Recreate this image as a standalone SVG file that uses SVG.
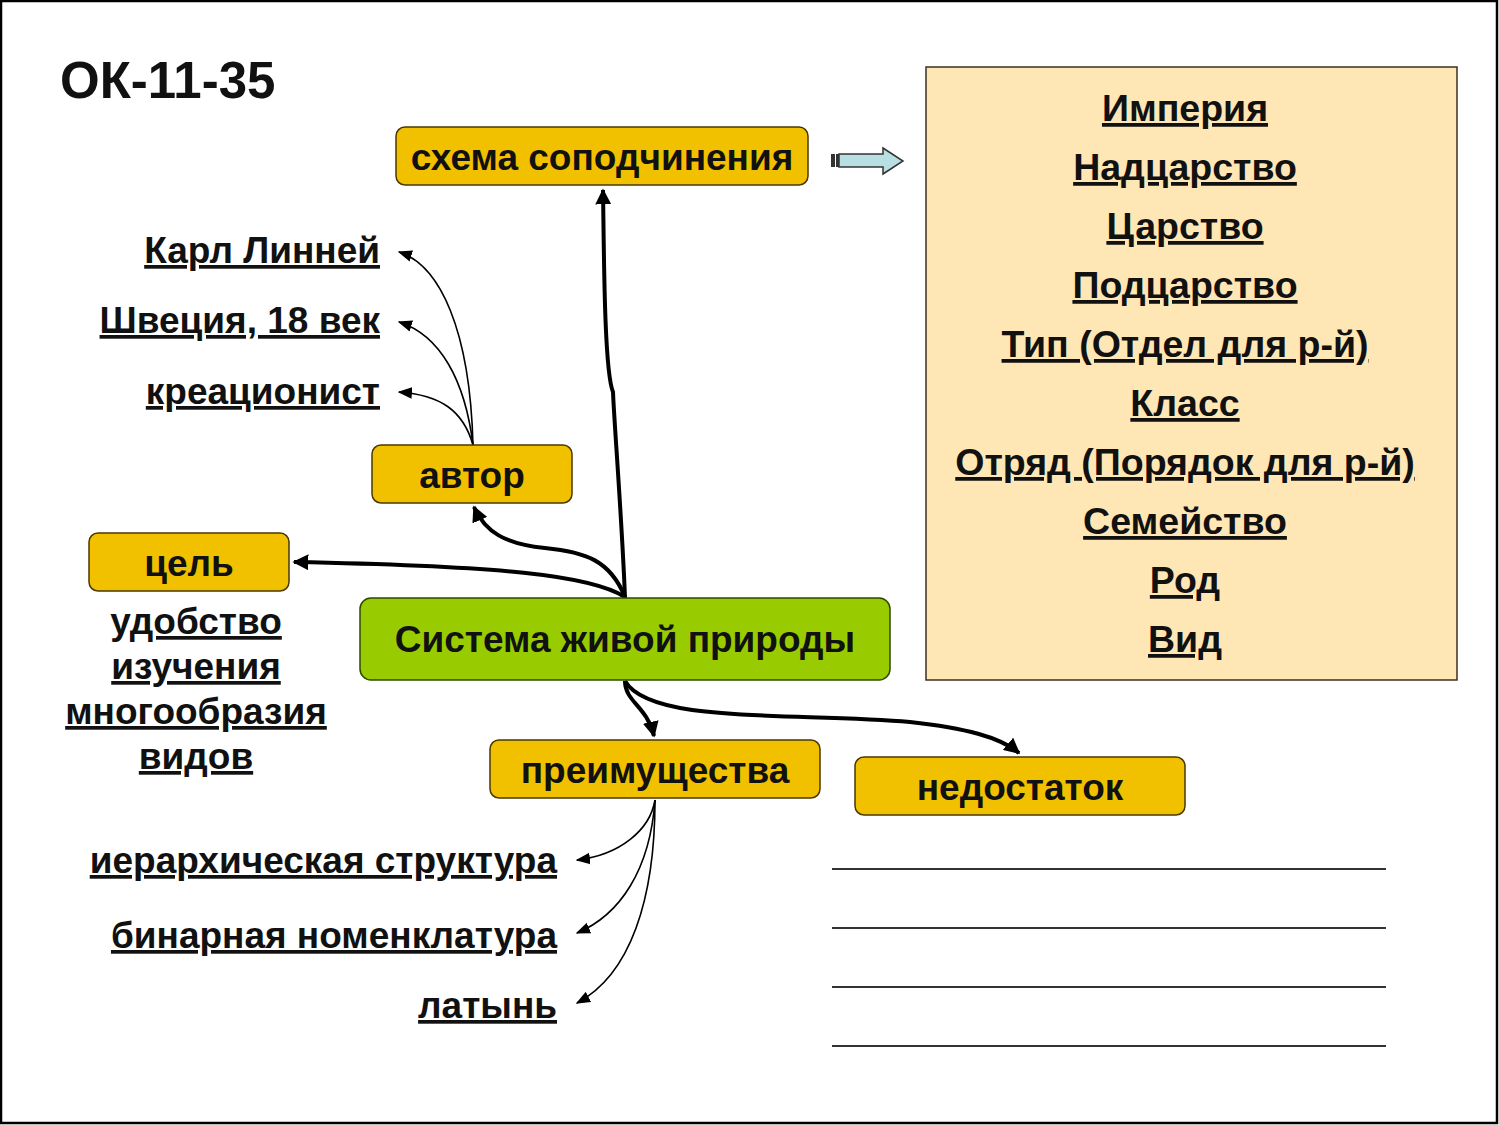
<svg xmlns="http://www.w3.org/2000/svg" width="1499" height="1125" viewBox="0 0 1499 1125">
<defs>
<style>
.t{font-family:"Liberation Sans",Arial,sans-serif;font-weight:bold;fill:#111}
.u{text-decoration:underline;text-decoration-skip-ink:none}
.box{fill:#F1C100;stroke:#4a3800;stroke-width:1.5}
.thick{fill:none;stroke:#000;stroke-width:4}
.thin{fill:none;stroke:#000;stroke-width:1.6}
.ln{stroke:#333;stroke-width:2}
</style>
<marker id="ah" viewBox="0 0 10 10" refX="9" refY="5" markerWidth="4" markerHeight="4" markerUnits="strokeWidth" orient="auto">
<path d="M0,0 L10,5 L0,10 Z" fill="#000"/>
</marker>
<marker id="as" viewBox="0 0 10 10" refX="9" refY="5" markerWidth="9" markerHeight="9" markerUnits="strokeWidth" orient="auto">
<path d="M0,1 L10,5 L0,9 Z" fill="#000"/>
</marker>
</defs>
<rect x="0" y="0" width="1499" height="1125" fill="#fff"/>
<rect x="1" y="1" width="1496" height="1122" fill="none" stroke="#000" stroke-width="2.5"/>

<text class="t" x="60" y="98" font-size="51">ОК-11-35</text>

<g id="panel">
<rect x="926" y="67" width="531" height="613" fill="#FFE6B5" stroke="#3a3020" stroke-width="1.5"/>
<g class="t u" font-size="37.5" text-anchor="middle">
<text x="1185" y="121">Империя</text>
<text x="1185" y="180">Надцарство</text>
<text x="1185" y="239">Царство</text>
<text x="1185" y="298">Подцарство</text>
<text x="1185" y="357">Тип (Отдел для р-й)</text>
<text x="1185" y="416">Класс</text>
<text x="1185" y="475">Отряд (Порядок для р-й)</text>
<text x="1185" y="534">Семейство</text>
<text x="1185" y="593">Род</text>
<text x="1185" y="652">Вид</text>
</g>
</g>

<g id="blockarrow">
<rect x="831" y="154" width="4" height="13" fill="#333"/>
<rect x="836" y="154" width="3" height="13" fill="#333"/>
<path d="M839,154 H883 V148 L903,161 L883,174 V167 H839 Z" fill="#B8DFE2" stroke="#333" stroke-width="1.5"/>
</g>

<g id="connectors">
<path class="thick" d="M625,598 C622,520 614,420 613,392 C604,370 604,250 603,190" marker-end="url(#ah)"/>
<path class="thick" d="M625,597 C610,560 585,552 545,548 C505,544 485,532 474,507" marker-end="url(#ah)"/>
<path class="thick" d="M625,597 C590,575 500,566 294,562" marker-end="url(#ah)"/>
<path class="thick" d="M625,681 C625,702 647,706 654,736" marker-end="url(#ah)"/>
<path class="thick" d="M625,681 C650,725 800,712 910,722 C965,728 1000,737 1019,753" marker-end="url(#ah)"/>
<path class="thin" d="M473,445 C470,330 440,265 399,252" marker-end="url(#as)"/>
<path class="thin" d="M473,445 C465,380 440,335 399,322" marker-end="url(#as)"/>
<path class="thin" d="M473,445 C463,410 440,395 399,392" marker-end="url(#as)"/>
<path class="thin" d="M655,800 C650,830 620,855 577,860" marker-end="url(#as)"/>
<path class="thin" d="M655,800 C650,870 620,915 577,933" marker-end="url(#as)"/>
<path class="thin" d="M655,800 C655,900 630,975 577,1003" marker-end="url(#as)"/>
</g>

<g id="node-schema">
<rect class="box" x="396" y="127" width="412" height="58" rx="9"/>
<text class="t" x="602" y="170" font-size="37" text-anchor="middle">схема соподчинения</text>
</g>
<g id="node-avtor">
<rect class="box" x="372" y="445" width="200" height="58" rx="9"/>
<text class="t" x="472" y="488" font-size="37" text-anchor="middle">автор</text>
</g>
<g id="node-cel">
<rect class="box" x="89" y="533" width="200" height="58" rx="9"/>
<text class="t" x="189" y="576" font-size="37" text-anchor="middle">цель</text>
</g>
<g id="node-main">
<rect x="360" y="598" width="530" height="82" rx="11" fill="#99CC00" stroke="#2f4a00" stroke-width="1.5"/>
<text class="t" x="625" y="652" font-size="37" text-anchor="middle">Система живой природы</text>
</g>
<g id="node-preim">
<rect class="box" x="490" y="740" width="330" height="58" rx="9"/>
<text class="t" x="655" y="783" font-size="37" text-anchor="middle">преимущества</text>
</g>
<g id="node-nedost">
<rect class="box" x="855" y="757" width="330" height="58" rx="9"/>
<text class="t" x="1020" y="800" font-size="37" text-anchor="middle">недостаток</text>
</g>

<g id="author-items" class="t u" font-size="37" text-anchor="end">
<text x="380" y="263">Карл Линней</text>
<text x="380" y="333">Швеция, 18 век</text>
<text x="380" y="404">креационист</text>
</g>

<g id="goal-text" class="t u" font-size="37" text-anchor="middle">
<text x="196" y="634">удобство</text>
<text x="196" y="679">изучения</text>
<text x="196" y="724">многообразия</text>
<text x="196" y="769">видов</text>
</g>

<g id="adv-items" class="t u" font-size="37" text-anchor="end">
<text x="557" y="873">иерархическая структура</text>
<text x="557" y="948">бинарная номенклатура</text>
<text x="557" y="1018">латынь</text>
</g>

<g id="lines">
<line class="ln" x1="832" y1="869" x2="1386" y2="869"/>
<line class="ln" x1="832" y1="928" x2="1386" y2="928"/>
<line class="ln" x1="832" y1="987" x2="1386" y2="987"/>
<line class="ln" x1="832" y1="1046" x2="1386" y2="1046"/>
</g>
</svg>
